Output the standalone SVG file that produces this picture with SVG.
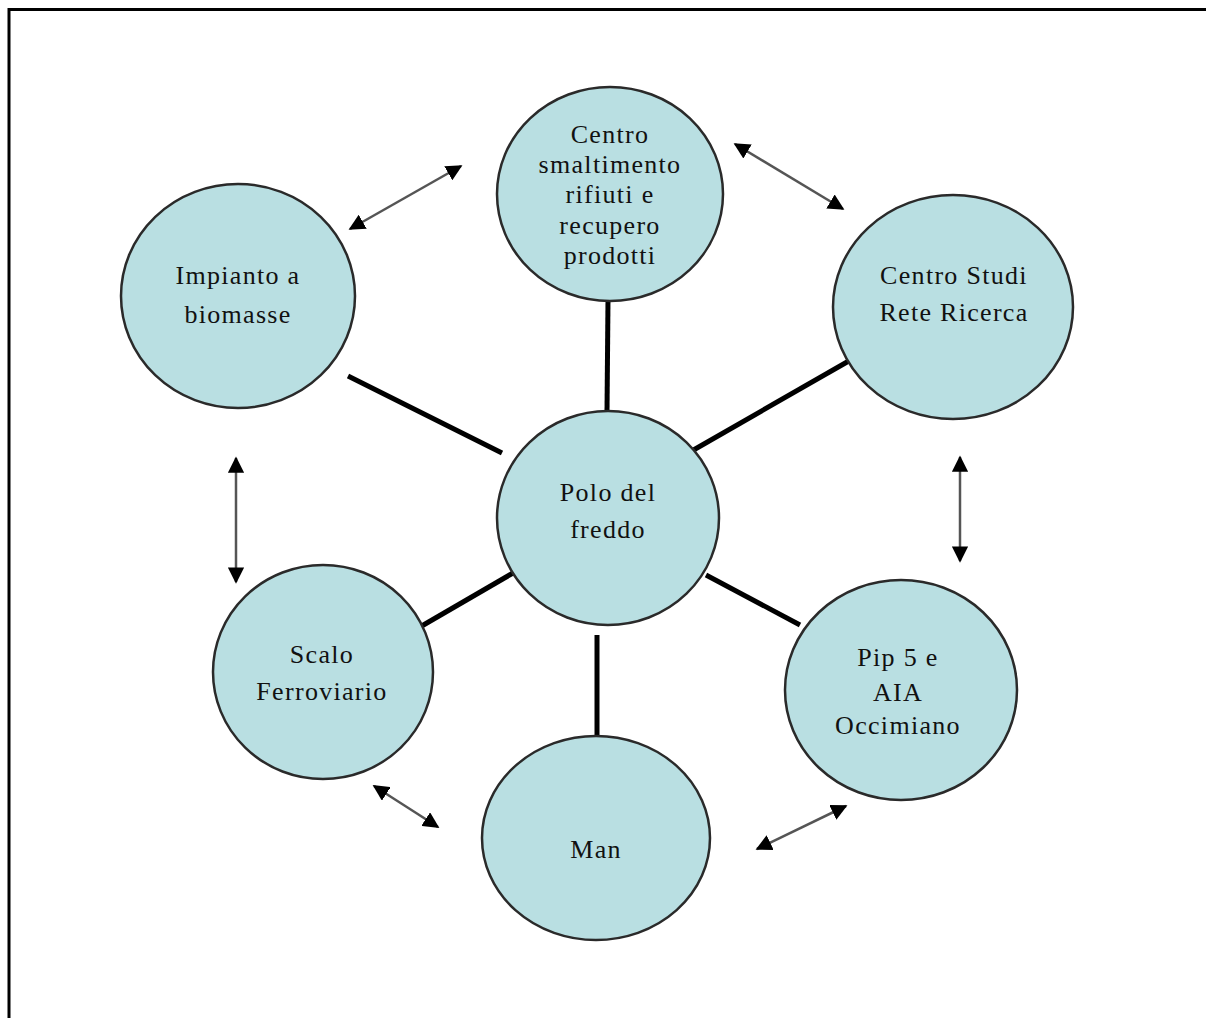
<svg xmlns="http://www.w3.org/2000/svg" width="1206" height="1018" viewBox="0 0 1206 1018">
<defs>
<style>
.node{fill:#b9dfe2;stroke:#2a2a2a;stroke-width:2.5}
.lbl{font-family:"Liberation Serif","Times New Roman",serif;font-size:26px;fill:#111;text-anchor:middle;letter-spacing:1.3px}
.spoke{stroke:#000;stroke-width:5;fill:none}
.arr{stroke:#555;stroke-width:2.5;fill:none;marker-start:url(#ah);marker-end:url(#ah)}
</style>
<marker id="ah" viewBox="0 0 10 10" refX="9" refY="5" markerWidth="6.5" markerHeight="6.5" orient="auto-start-reverse" markerUnits="strokeWidth">
<path d="M0,0 L10,5 L0,10 z" fill="#000"/>
</marker>
</defs>
<rect width="1206" height="1018" fill="#fff"/>
<path d="M9,1018 V9.5 H1206" fill="none" stroke="#000" stroke-width="3"/>
<g id="connectors">
<line class="spoke" x1="608" y1="300" x2="607" y2="411"/>
<line class="spoke" x1="348" y1="376" x2="502" y2="453"/>
<line class="spoke" x1="868" y1="350" x2="690" y2="452"/>
<line class="spoke" x1="513" y1="573" x2="420" y2="627"/>
<line class="spoke" x1="706" y1="575" x2="800" y2="625"/>
<line class="spoke" x1="597" y1="635" x2="597" y2="740"/>
<line class="arr" x1="350" y1="229" x2="461" y2="166"/>
<line class="arr" x1="735" y1="144" x2="843" y2="209"/>
<line class="arr" x1="960" y1="457" x2="960" y2="561"/>
<line class="arr" x1="236" y1="458" x2="236" y2="582"/>
<line class="arr" x1="374" y1="786" x2="438" y2="827"/>
<line class="arr" x1="757" y1="849" x2="846" y2="806"/>
</g>
<g id="n-centro-smaltimento">
<ellipse class="node" cx="610" cy="194" rx="113" ry="107"/>
<text class="lbl" x="610" y="143">Centro</text>
<text class="lbl" x="610" y="173">smaltimento</text>
<text class="lbl" x="610" y="203">rifiuti e</text>
<text class="lbl" x="610" y="234">recupero</text>
<text class="lbl" x="610" y="264">prodotti</text>
</g>
<g id="n-impianto">
<ellipse class="node" cx="238" cy="296" rx="117" ry="112"/>
<text class="lbl" x="238" y="284">Impianto a</text>
<text class="lbl" x="238" y="323">biomasse</text>
</g>
<g id="n-centro-studi">
<ellipse class="node" cx="953" cy="307" rx="120" ry="112"/>
<text class="lbl" x="954" y="284">Centro Studi</text>
<text class="lbl" x="954" y="321">Rete Ricerca</text>
</g>
<g id="n-polo">
<ellipse class="node" cx="608" cy="518" rx="111" ry="107"/>
<text class="lbl" x="608" y="501">Polo del</text>
<text class="lbl" x="608" y="538">freddo</text>
</g>
<g id="n-scalo">
<ellipse class="node" cx="323" cy="672" rx="110" ry="107"/>
<text class="lbl" x="322" y="663">Scalo</text>
<text class="lbl" x="322" y="700">Ferroviario</text>
</g>
<g id="n-pip">
<ellipse class="node" cx="901" cy="690" rx="116" ry="110"/>
<text class="lbl" x="898" y="666">Pip 5 e</text>
<text class="lbl" x="898" y="701">AIA</text>
<text class="lbl" x="898" y="734">Occimiano</text>
</g>
<g id="n-man">
<ellipse class="node" cx="596" cy="838" rx="114" ry="102"/>
<text class="lbl" x="596" y="858">Man</text>
</g>
</svg>
